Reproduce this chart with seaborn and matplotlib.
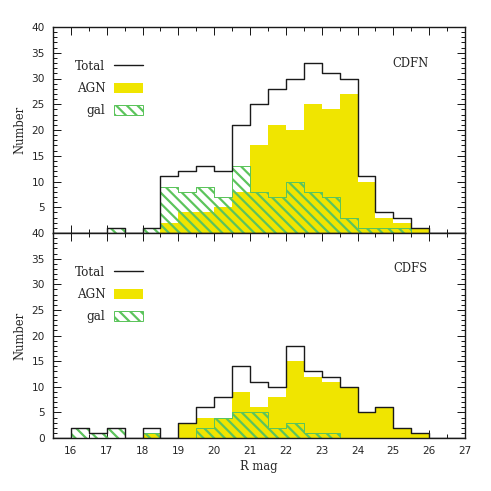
import numpy as np
import pandas as pd
import matplotlib
matplotlib.use("Agg")
import matplotlib.pyplot as plt
from matplotlib.lines import Line2D
from matplotlib.patches import Patch
from matplotlib.ticker import MultipleLocator
import seaborn as sns

# ---- data (counts per 0.5 mag bin; left edges listed) ----
bin_left = [15.5, 16.0, 16.5, 17.0, 17.5, 18.0, 18.5, 19.0, 19.5, 20.0, 20.5, 21.0,
            21.5, 22.0, 22.5, 23.0, 23.5, 24.0, 24.5, 25.0, 25.5, 26.0, 26.5]
bin_edges = bin_left + [27.0]

cdfn_total = [0, 0, 0, 1, 0, 1, 11, 12, 13, 12, 21, 25, 28, 30, 33, 31, 30, 11, 4, 3, 1, 0, 0]
cdfn_agn   = [0, 0, 0, 0, 0, 0, 2, 4, 4, 5, 8, 17, 21, 20, 25, 24, 27, 10, 3, 2, 1, 0, 0]
cdfn_gal   = [0, 0, 0, 1, 0, 1, 9, 8, 9, 7, 13, 8, 7, 10, 8, 7, 3, 1, 1, 1, 0, 0, 0]

cdfs_total = [0, 2, 1, 2, 0, 2, 0, 3, 6, 8, 14, 11, 10, 18, 13, 12, 10, 5, 6, 2, 1, 0, 0]
cdfs_agn   = [0, 0, 0, 0, 0, 1, 0, 3, 4, 4, 9, 6, 8, 15, 12, 11, 10, 5, 6, 2, 1, 0, 0]
cdfs_gal   = [0, 2, 1, 2, 0, 1, 0, 0, 2, 4, 5, 5, 2, 3, 1, 1, 0, 0, 0, 0, 0, 0, 0]

x_ticks = [16, 17, 18, 19, 20, 21, 22, 23, 24, 25, 26, 27]
y_ticks = [0, 5, 10, 15, 20, 25, 30, 35, 40]
panel_names = ["CDFN", "CDFS"]
legend_labels = ["Total", "AGN", "gal"]

DPI = 64
def P(px):
    return px * 72.0 / DPI

YELLOW = "#f0e500"
GREEN = "#5cc45c"
LINE = "#1a1a1a"
HATCH = "\\\\"

sns.set_style("ticks")
plt.rcParams["font.family"] = ["DejaVu Sans"]
plt.rcParams["hatch.linewidth"] = P(2.2)
plt.rcParams["hatch.color"] = GREEN

fig = plt.figure(figsize=(491 / DPI, 491 / DPI), dpi=DPI)
W = 491.0
left = 53 / W
width = (465 - 53) / W
ax_top = fig.add_axes([left, (491 - 233) / W, width, (233 - 27) / W])
ax_bot = fig.add_axes([left, (491 - 438) / W, width, (438 - 233) / W])

centers = [b + 0.25 for b in bin_left]

serif = ["DejaVu Serif"]

for ax, name, tot, agn, gal, ybot in [
    (ax_top, panel_names[0], cdfn_total, cdfn_agn, cdfn_gal, False),
    (ax_bot, panel_names[1], cdfs_total, cdfs_agn, cdfs_gal, True),
]:
    df = pd.DataFrame({"mag": centers, "total": tot, "agn": agn, "gal": gal})
    sns.histplot(data=df, x="mag", weights="agn", bins=bin_edges, element="step",
                 fill=True, color=YELLOW, edgecolor="none", linewidth=0,
                 alpha=1, ax=ax, zorder=1)
    sns.histplot(data=df, x="mag", weights="gal", bins=bin_edges, element="step",
                 fill=True, color=GREEN, facecolor="none", edgecolor=GREEN, hatch=HATCH,
                 linewidth=P(1.0), ax=ax, zorder=1.5)
    sns.histplot(data=df, x="mag", weights="total", bins=bin_edges, element="step",
                 fill=False, color=LINE, linewidth=P(1.4), ax=ax, zorder=2)

    ax.set_xlim(15.5, 27)
    ax.set_ylim(0, 40)
    ax.xaxis.set_major_locator(MultipleLocator(1))
    ax.xaxis.set_minor_locator(MultipleLocator(0.5))
    ax.yaxis.set_minor_locator(MultipleLocator(1))
    ax.set_yticks(y_ticks)
    if ybot:
        ax.set_yticklabels([str(v) for v in y_ticks])
    else:
        # lowest label coincides with the lower panel's "40"
        ax.set_yticklabels([""] + [str(v) for v in y_ticks[1:]])
    ax.tick_params(which="both", direction="in", top=True, right=True,
                   bottom=True, left=True, width=P(1.0), color=LINE)
    ax.tick_params(which="major", length=P(8), pad=P(8), labelsize=P(10.5))
    ax.tick_params(which="minor", length=P(4))
    for s in ax.spines.values():
        s.set_linewidth(P(1.4))
        s.set_color(LINE)
        s.set_visible(True)
    ax.set_ylabel("Number", fontsize=P(11.5), family=serif, labelpad=P(5))
    if ybot:
        ax.set_xticks(x_ticks)
        ax.set_xlabel("R mag", fontsize=P(11.5), family=serif, labelpad=P(4))
    else:
        ax.set_xticklabels([])
        ax.set_xlabel("")

    ax.text(0.867, 0.825, name, transform=ax.transAxes, ha="center", va="center",
            fontsize=P(11.5), family=serif)

    handles = [
        Line2D([], [], color=LINE, linewidth=P(1.4)),
        Patch(facecolor=YELLOW, edgecolor="none"),
        Patch(facecolor="none", edgecolor=GREEN, hatch=HATCH, linewidth=P(1.0)),
    ]
    ax.legend(handles, legend_labels, loc="upper left",
              bbox_to_anchor=(0.054, 0.84), frameon=False, markerfirst=False,
              prop={"family": serif, "size": P(12)},
              handlelength=2.4, handleheight=0.95, handletextpad=0.75,
              labelspacing=0.75, borderaxespad=0, borderpad=0)

fig.savefig("out.png", dpi=DPI)
